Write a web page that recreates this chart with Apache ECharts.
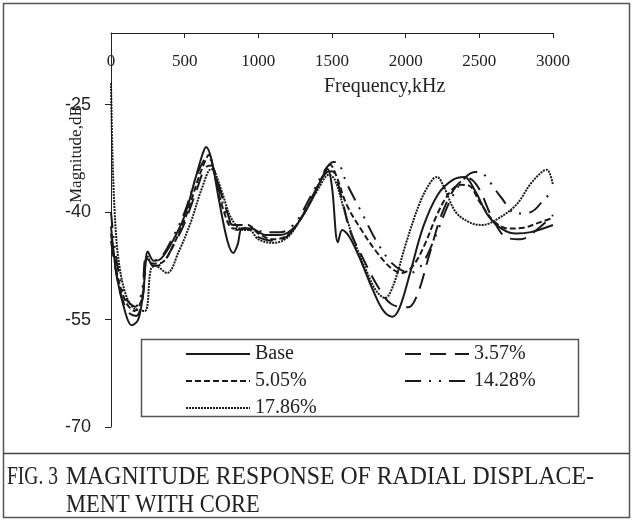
<!DOCTYPE html>
<html>
<head>
<meta charset="utf-8">
<title>Magnitude response of radial displacement with core</title>
<script src="https://cdn.jsdelivr.net/npm/echarts@6/dist/echarts.min.js"></script>
<style>
  html, body { margin: 0; padding: 0; background: #fff; }
  #chart { width: 633px; height: 521px; }
</style>
</head>
<body>
<div id="chart"></div>
<script>
// frequency (kHz) / magnitude (dB)
const seriesNames = ['Base', '3.57%', '5.05%', '14.28%', '17.86%']
const yTickValues = [-70, -55, -40, -25]

const base = [
  [0, -42], [40, -49], [90, -53.5], [140, -55.8], [185, -55], [220, -51], [250, -45.5], [290, -46.8],
  [340, -46.5], [420, -44], [500, -40.5], [570, -35.5], [620, -32], [645, -30.9], [680, -32.5],
  [730, -38], [790, -44], [830, -45.7], [860, -44.5], [890, -42.3], [950, -42.3], [1050, -43.2],
  [1150, -43.2], [1250, -42], [1350, -38.8], [1430, -35.3], [1470, -34], [1500, -36.5], [1540, -44.2],
  [1570, -42.5], [1620, -43.5], [1700, -47], [1780, -51], [1850, -53.8], [1910, -54.6], [1960, -53.3],
  [2030, -48.5], [2120, -42], [2220, -37.5], [2320, -35.5], [2400, -35.1], [2470, -37], [2560, -40.5],
  [2650, -42.3], [2750, -43], [2850, -42.8], [3000, -41.8]
]
const core357 = [
  [0, -44], [50, -50], [110, -53.8], [170, -54.5], [215, -52], [245, -46], [285, -47.5], [340, -47.3],
  [420, -44.8], [500, -41.5], [580, -37], [640, -33.8], [680, -33.5], [720, -35.5], [780, -39.5],
  [850, -42.5], [920, -42.3], [1000, -43.5], [1100, -44], [1200, -43.3], [1300, -40.5], [1400, -36.5],
  [1460, -34.5], [1500, -34.3], [1560, -37.5], [1620, -42.5], [1700, -46], [1800, -50], [1900, -52.8],
  [2017, -53.3], [2080, -51.5], [2160, -46], [2250, -40], [2350, -36.2], [2430, -35.3], [2500, -36.8],
  [2580, -40.5], [2680, -43.5], [2780, -43.8], [2900, -42.3], [3000, -40.4]
]
const core505 = [
  [0, -43], [40, -48.5], [100, -52.5], [160, -53.8], [210, -52], [245, -46.5], [290, -47.2], [350, -47],
  [430, -44.3], [510, -40.5], [590, -35.5], [640, -32.8], [665, -32], [700, -34.5], [760, -39.5],
  [830, -42.3], [900, -42.3], [930, -41.8], [1000, -43], [1100, -43.8], [1200, -43.2], [1300, -40.5],
  [1400, -36.5], [1460, -34], [1487, -33.4], [1530, -35], [1600, -39], [1700, -42.5], [1800, -45.5],
  [1900, -47.8], [1975, -48.5], [2050, -47.5], [2130, -44.5], [2210, -40.5], [2290, -37.5], [2370, -36.2],
  [2430, -36.3], [2500, -38.5], [2600, -41.3], [2700, -42.3], [2800, -42.2], [2900, -41.5], [3000, -40.8]
]
const core1428 = [
  [0, -40], [40, -47], [100, -52], [165, -53.2], [210, -51], [240, -46], [280, -46.8], [340, -46.3],
  [420, -43.5], [500, -40], [580, -35], [630, -32.8], [660, -32.3], [700, -34.2], [760, -38.8],
  [830, -41.8], [890, -41.8], [940, -42], [1050, -42.8], [1150, -42.8], [1250, -41.5], [1350, -38],
  [1450, -34.2], [1510, -33], [1540, -33.1], [1600, -36], [1700, -40], [1800, -44], [1900, -47],
  [1980, -48.2], [2050, -48.4], [2120, -47], [2200, -43.5], [2300, -38.5], [2400, -35.3], [2470, -34.4],
  [2505, -34.4], [2560, -35.5], [2650, -38], [2750, -40.2], [2850, -40], [2950, -38], [3000, -37.2]
]
const core1786 = [
  [0, -22], [10, -32], [25, -40], [50, -46.5], [100, -51.5], [160, -53.5], [230, -53.8], [270, -48],
  [300, -47.5], [380, -48.5], [460, -45.5], [540, -41.5], [620, -36.5], [680, -34], [700, -34.2],
  [750, -37], [820, -41], [900, -42.5], [940, -42.5], [1000, -43.8], [1100, -44.3], [1200, -43.5],
  [1300, -40.5], [1400, -37], [1480, -34.8], [1520, -35.5], [1580, -39.5], [1650, -44], [1740, -48.5],
  [1800, -51], [1860, -52], [1920, -50], [2000, -44.5], [2100, -38.5], [2180, -35.5], [2213, -35.1],
  [2260, -36.5], [2340, -40], [2440, -41.5], [2520, -41.8], [2620, -41], [2750, -39], [2850, -36],
  [2930, -34.3], [2960, -34.1], [3000, -36.2]
]

const seriesData = [base, core357, core505, core1428, core1786]
const dashTypes = ['solid', [16, 9], [6, 3], [16, 8, 2, 8, 2, 8], [2, 1]]

const serif = 'Liberation Serif'
const lineColor = '#1a1a1a'

const chart = echarts.init(document.getElementById('chart'))

const legendCommon = {
  orient: 'vertical',
  top: 344,
  padding: 0,
  itemWidth: 64,
  itemHeight: 12,
  itemGap: 7,
  itemStyle: { opacity: 0 },
  textStyle: { fontFamily: serif, fontSize: 20, color: '#222', lineHeight: 20 }
}

const option = {
  animation: false,
  backgroundColor: '#fff',
  grid: { left: 111, top: 33, width: 442, height: 394 },
  xAxis: {
    type: 'value',
    position: 'top',
    min: 0,
    max: 3000,
    interval: 500,
    axisLine: { lineStyle: { color: '#222', width: 1 } },
    axisTick: { inside: true, length: 5, lineStyle: { color: '#222' } },
    axisLabel: {
      inside: true, margin: 20, fontFamily: serif, fontSize: 17, color: '#222',
      formatter: v => String(v)
    },
    splitLine: { show: false }
  },
  yAxis: {
    type: 'value',
    min: -70,
    max: -15,
    interval: 15,
    axisLine: { show: true, lineStyle: { color: '#222', width: 1 } },
    axisTick: { show: true, length: 6, customValues: yTickValues, lineStyle: { color: '#222' } },
    axisLabel: {
      margin: 20, customValues: yTickValues,
      fontFamily: 'Liberation Sans', fontSize: 18, color: '#222'
    },
    splitLine: { show: false }
  },
  legend: [
    Object.assign({ left: 185, data: [seriesNames[0], seriesNames[2], seriesNames[4]] }, legendCommon),
    Object.assign({ left: 404, data: [seriesNames[1], seriesNames[3]] }, legendCommon)
  ],
  series: seriesNames.map((name, i) => ({
    name: name,
    type: 'line',
    data: seriesData[i],
    smooth: 0.35,
    symbol: 'none',
    lineStyle: { color: lineColor, width: 2, type: dashTypes[i] },
    itemStyle: { color: lineColor }
  })),
  graphic: [
    {
      type: 'rect', z: -1, silent: true,
      shape: { x: 3.5, y: 3.5, width: 626, height: 514 },
      style: { fill: 'none', stroke: '#555', lineWidth: 1.5 }
    },
    {
      type: 'line', silent: true,
      shape: { x1: 3.5, y1: 453.5, x2: 629.5, y2: 453.5 },
      style: { stroke: '#444', lineWidth: 1.5 }
    },
    {
      type: 'rect', z: 1, silent: true,
      shape: { x: 141.5, y: 339.5, width: 437, height: 77 },
      style: { fill: '#fff', stroke: '#555', lineWidth: 1.5 }
    },
    {
      type: 'text', left: 324, top: 77,
      style: { text: 'Frequency,kHz', font: '20px "Liberation Serif"', fill: '#222' }
    },
    {
      type: 'text', x: 68, y: 203, rotation: Math.PI / 2,
      style: { text: 'Magnitude,dB', font: '17px "Liberation Serif"', fill: '#222' }
    },
    {
      type: 'text', x: 7, y: 465, scaleX: 0.78,
      style: { text: 'FIG. 3', font: '25px "Liberation Serif"', fill: '#222' }
    },
    {
      type: 'text', x: 66, y: 465, scaleX: 0.95,
      style: { text: 'MAGNITUDE RESPONSE OF RADIAL DISPLACE-', font: '25px "Liberation Serif"', fill: '#222' }
    },
    {
      type: 'text', x: 66, y: 493, scaleX: 0.9,
      style: { text: 'MENT WITH CORE', font: '25px "Liberation Serif"', fill: '#222' }
    }
  ]
}

chart.setOption(option)
</script>
</body>
</html>
